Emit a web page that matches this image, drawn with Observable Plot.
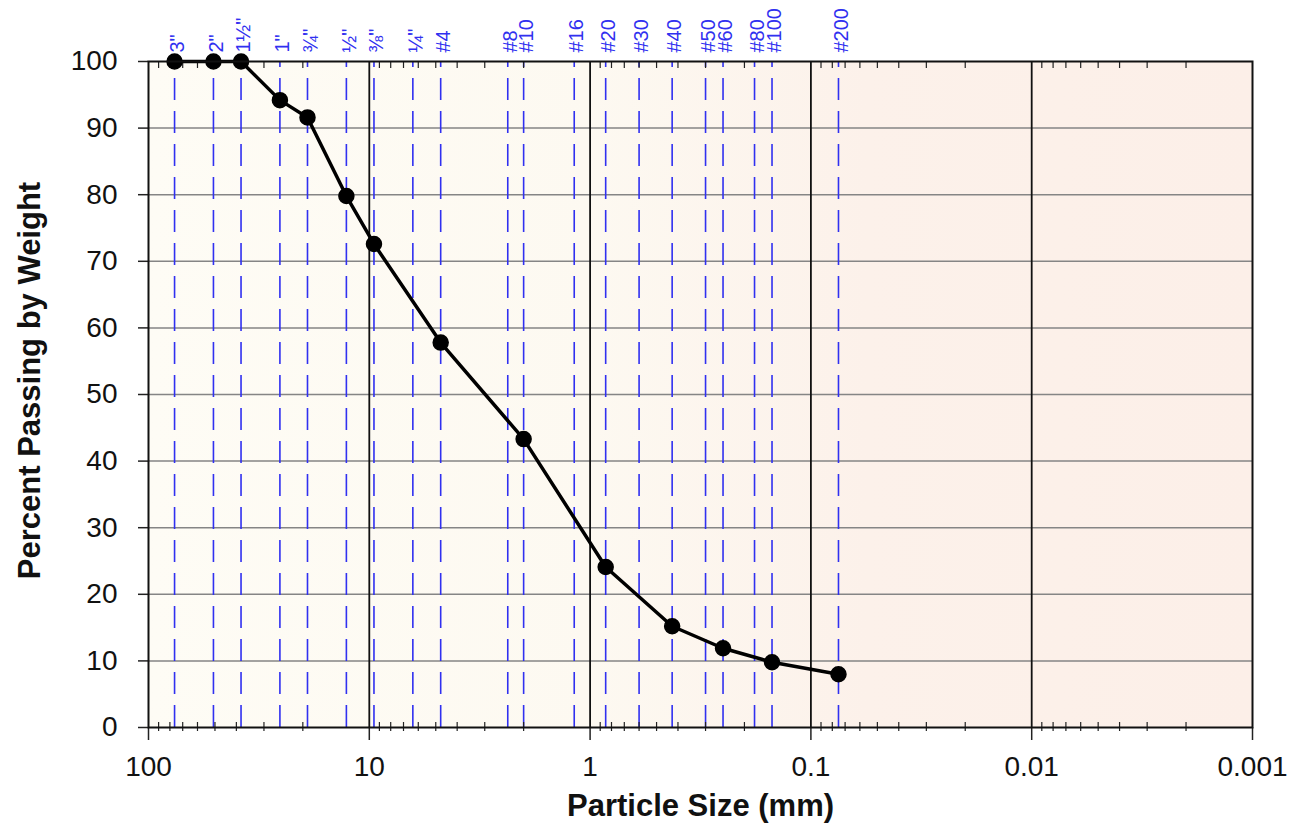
<!DOCTYPE html>
<html><head><meta charset="utf-8">
<script src="https://cdn.jsdelivr.net/npm/d3@7"></script>
<script src="https://cdn.jsdelivr.net/npm/@observablehq/plot@0.6"></script>
<style>body{margin:0;background:#fff;}</style>
</head><body><div id="chart"></div>
<script>
// Sieve designations (top labels) and their opening sizes in mm
const sieveLabels = ['3"', '2"', '1½"', '1"', '¾"', '½"', '⅜"', '¼"', '#4', '#8', '#10', '#16', '#20', '#30', '#40', '#50', '#60', '#80', '#100', '#200'];
const sieveSizes = [76.2, 50.8, 38.1, 25.4, 19.05, 12.7, 9.525, 6.35, 4.75, 2.36, 2.0, 1.18, 0.85, 0.6, 0.425, 0.3, 0.25, 0.18, 0.15, 0.075];

// Gradation test results
const testSizes = [76.2, 50.8, 38.1, 25.4, 19.05, 12.7, 9.525, 4.75, 2.0, 0.85, 0.425, 0.25, 0.15, 0.075];
const percentPassing = [100, 100, 100, 94.2, 91.6, 79.8, 72.6, 57.8, 43.3, 24.1, 15.2, 11.9, 9.8, 8.0];

// Axis ticks
const xMajorTicks = [100, 10, 1, 0.1, 0.01, 0.001];
const xMajorLabels = ["100", "10", "1", "0.1", "0.01", "0.001"];
const xDecadeLines = [10, 1, 0.1, 0.01];
const xMinorTicks = [90, 80, 70, 60, 50, 40, 30, 20,
  9, 8, 7, 6, 5, 4, 3, 2,
  0.9, 0.8, 0.7, 0.6, 0.5, 0.4, 0.3, 0.2,
  0.09, 0.08, 0.07, 0.06, 0.05, 0.04, 0.03, 0.02,
  0.009, 0.008, 0.007, 0.006, 0.005, 0.004, 0.003, 0.002];
const yTicks = [0, 10, 20, 30, 40, 50, 60, 70, 80, 90, 100];
const yGrid = [10, 20, 30, 40, 50, 60, 70, 80, 90];

const sieves = sieveSizes.map((s, i) => ({size: s, label: sieveLabels[i]}));
const points = testSizes.map((s, i) => ({size: s, pct: percentPassing[i]}));

const blue = "#3030f0";

const chart = Plot.plot({
  width: 1290, height: 838,
  marginLeft: 148, marginRight: 38, marginTop: 61, marginBottom: 111,
  style: {fontFamily: "'Liberation Sans', Arial, sans-serif", background: "white", overflow: "visible"},
  x: {type: "log", domain: [100, 0.001]},
  y: {domain: [0, 100]},
  marks: [
    Plot.frame({fill: "url(#bggrad)", stroke: null}),
    Plot.ruleY(yGrid, {stroke: "#858585", strokeWidth: 1.5}),
    Plot.ruleX(xDecadeLines, {stroke: "#111", strokeWidth: 1.8}),
    Plot.ruleX(sieves, {x: "size", stroke: blue, strokeWidth: 1.6, strokeDasharray: "22,11", strokeDashoffset: 16}),
    Plot.axisX(xMinorTicks, {anchor: "bottom", tickSize: -5, tickFormat: () => "", label: null, stroke: "#222", strokeWidth: 1.2}),
    Plot.axisX(xMinorTicks, {anchor: "bottom", tickSize: 4, tickFormat: () => "", label: null, stroke: "#222", strokeWidth: 1.2}),
    Plot.axisX(xMinorTicks, {anchor: "top", tickSize: -6, tickFormat: () => "", label: null, stroke: "#222", strokeWidth: 1.2}),
    Plot.axisX(xMajorTicks, {anchor: "bottom", tickSize: 13, tickPadding: 16, fontSize: 28, label: null,
      tickFormat: d => xMajorLabels[xMajorTicks.indexOf(d)], stroke: "#222", strokeWidth: 1.5, fill: "#111"}),
    Plot.axisY(yTicks, {anchor: "left", tickSize: 10, tickPadding: 21, fontSize: 28, label: null,
      tickFormat: d => String(d), stroke: "#222", strokeWidth: 1.5, fill: "#111"}),
    Plot.text(sieves, {x: "size", text: "label", frameAnchor: "top", rotate: -90, textAnchor: "start",
      dx: -5, dy: -9, fill: blue, fontSize: 20}),
    Plot.line(points, {x: "size", y: "pct", stroke: "#000", strokeWidth: 3.5}),
    Plot.dot(points, {x: "size", y: "pct", r: 7.5, fill: "#000", stroke: "#000"}),
    Plot.frame({stroke: "#111", strokeWidth: 2}),
    Plot.text(["Particle Size (mm)"], {frameAnchor: "bottom", dy: 88, fontSize: 31, fontWeight: "bold", fill: "#111"}),
    Plot.text(["Percent Passing by Weight"], {frameAnchor: "left", dx: -118, dy: -14, rotate: -90, textAnchor: "middle", fontSize: 31, fontWeight: "bold", fill: "#111"})
  ]
});

const svg = chart.tagName.toLowerCase() === "svg" ? chart : chart.querySelector("svg");
const ns = "http://www.w3.org/2000/svg";
const defs = document.createElementNS(ns, "defs");
const grad = document.createElementNS(ns, "linearGradient");
grad.setAttribute("id", "bggrad");
grad.setAttribute("x1", "0"); grad.setAttribute("x2", "1");
grad.setAttribute("y1", "0"); grad.setAttribute("y2", "0");
[["0", "#fefcf5"], ["0.4", "#fdf9f1"], ["0.65", "#fcf1ea"], ["1", "#fcefe8"]].forEach(([o, c]) => {
  const st = document.createElementNS(ns, "stop");
  st.setAttribute("offset", o); st.setAttribute("stop-color", c);
  grad.appendChild(st);
});
defs.appendChild(grad);
svg.insertBefore(defs, svg.firstChild);
document.getElementById("chart").appendChild(chart);
</script></body></html>
